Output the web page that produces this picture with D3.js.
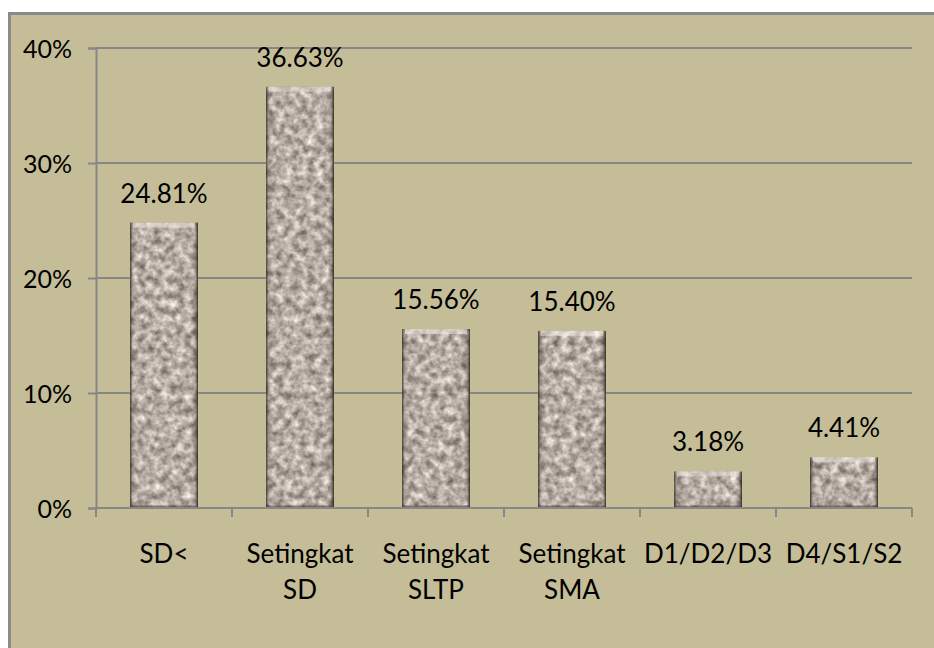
<!DOCTYPE html>
<html>
<head>
<meta charset="utf-8">
<script src="https://cdn.jsdelivr.net/npm/d3@7"></script>
<style>
  html, body { margin: 0; padding: 0; background: #ffffff; }
  svg { display: block; }
  text { font-family: Lato, "Open Sans", sans-serif; fill: #000; }
</style>
</head>
<body>
<svg id="chart" width="934" height="648"></svg>
<script>
const categories = [["SD<"], ["Setingkat", "SD"], ["Setingkat", "SLTP"], ["Setingkat", "SMA"], ["D1/D2/D3"], ["D4/S1/S2"]];
const values = [24.81, 36.63, 15.56, 15.40, 3.18, 4.41];
const valueLabels = ["24.81%", "36.63%", "15.56%", "15.40%", "3.18%", "4.41%"];
const yTicks = [0, 10, 20, 30, 40];
const yTickLabels = ["0%", "10%", "20%", "30%", "40%"];

const svg = d3.select("#chart");
const margin = { left: 96, right: 912, top: 48, bottom: 508 };

// defs: granite texture + bevel gradients
const defs = svg.append("defs");
const f = defs.append("filter").attr("id", "granite")
  .attr("x", 0).attr("y", 0).attr("width", 1).attr("height", 1)
  .attr("color-interpolation-filters", "sRGB");
f.append("feTurbulence").attr("type", "fractalNoise").attr("baseFrequency", 0.13)
  .attr("numOctaves", 3).attr("seed", 7).attr("result", "noise");
f.append("feColorMatrix").attr("in", "noise").attr("type", "matrix")
  .attr("values", "0.75 0 0 0 0.34  0.75 0 0 0 0.30  0.75 0 0 0 0.27  0 0 0 0 1")
  .attr("result", "col");
f.append("feGaussianBlur").attr("in", "col").attr("stdDeviation", 0.6).attr("result", "bl");
f.append("feComposite").attr("in", "bl").attr("in2", "SourceGraphic").attr("operator", "in");

const gh = defs.append("linearGradient").attr("id", "bevelH").attr("x1", 0).attr("x2", 1).attr("y1", 0).attr("y2", 0);
gh.append("stop").attr("offset", "0%").attr("stop-color", "#2a211c").attr("stop-opacity", 0.8);
gh.append("stop").attr("offset", "4%").attr("stop-color", "#2a211c").attr("stop-opacity", 0.15);
gh.append("stop").attr("offset", "9%").attr("stop-color", "#2a211c").attr("stop-opacity", 0);
gh.append("stop").attr("offset", "91%").attr("stop-color", "#2a211c").attr("stop-opacity", 0);
gh.append("stop").attr("offset", "96%").attr("stop-color", "#2a211c").attr("stop-opacity", 0.2);
gh.append("stop").attr("offset", "100%").attr("stop-color", "#2a211c").attr("stop-opacity", 0.9);

// background panel
svg.append("rect").attr("x", 9.5).attr("y", 13.5).attr("width", 940).attr("height", 650)
  .attr("fill", "#c4bd97").attr("stroke", "#8a8a8a").attr("stroke-width", 3);

const x = d3.scaleBand().domain(d3.range(categories.length))
  .range([margin.left, margin.right]).paddingInner(0.5).paddingOuter(0.25);
const xb = d3.scaleBand().domain(d3.range(categories.length)).range([margin.left, margin.right]);
const y = d3.scaleLinear().domain([0, 40]).range([margin.bottom, margin.top]);

// gridlines
svg.append("g").selectAll("line").data(yTicks.filter(d => d > 0)).join("line")
  .attr("x1", margin.left).attr("x2", margin.right)
  .attr("y1", d => y(d)).attr("y2", d => y(d))
  .attr("stroke", "#878787").attr("stroke-width", 2);

// y axis
const yAxis = svg.append("g").attr("transform", `translate(${margin.left},0)`)
  .call(d3.axisLeft(y).tickValues(yTicks).tickFormat((d, i) => yTickLabels[i]).tickSize(8).tickPadding(16));
yAxis.select(".domain").attr("stroke", "#878787").attr("stroke-width", 2);
yAxis.selectAll(".tick line").attr("stroke", "#878787").attr("stroke-width", 2);
yAxis.selectAll(".tick text").attr("font-size", 25).attr("font-family", "Lato, sans-serif")
  .attr("fill", "#000").attr("dy", "0.36em");

// bars
const bars = svg.append("g");
bars.selectAll("rect.bar").data(values).join("rect").attr("class", "bar")
  .attr("x", (d, i) => x(i)).attr("width", x.bandwidth())
  .attr("y", d => y(d)).attr("height", d => y(0) - y(d))
  .attr("fill", "#b2a79f").attr("filter", "url(#granite)");
bars.selectAll("rect.bev").data(values).join("rect").attr("class", "bev")
  .attr("x", (d, i) => x(i)).attr("width", x.bandwidth())
  .attr("y", d => y(d)).attr("height", d => y(0) - y(d))
  .attr("fill", "url(#bevelH)");
bars.selectAll("rect.top").data(values).join("rect").attr("class", "top")
  .attr("x", (d, i) => x(i) + 3).attr("width", x.bandwidth() - 6)
  .attr("y", d => y(d)).attr("height", 5)
  .attr("fill", "#f2ece6").attr("opacity", 0.5);
bars.selectAll("line.bot").data(values).join("line").attr("class", "bot")
  .attr("x1", (d, i) => x(i)).attr("x2", (d, i) => x(i) + x.bandwidth())
  .attr("y1", y(0) - 1.5).attr("y2", y(0) - 1.5)
  .attr("stroke", "#3a302a").attr("stroke-width", 2).attr("opacity", 0.5);

// x axis
const xAxis = svg.append("g").attr("transform", `translate(0,${margin.bottom})`);
xAxis.append("line").attr("x1", margin.left).attr("x2", margin.right)
  .attr("stroke", "#878787").attr("stroke-width", 2);
xAxis.selectAll("line.tk").data(d3.range(categories.length + 1)).join("line").attr("class", "tk")
  .attr("x1", i => i < categories.length ? xb(i) : margin.right)
  .attr("x2", i => i < categories.length ? xb(i) : margin.right)
  .attr("y1", 0).attr("y2", 9).attr("stroke", "#878787").attr("stroke-width", 2);

// category labels
const cl = svg.append("g").selectAll("text").data(categories).join("text")
  .attr("text-anchor", "middle").attr("font-size", 26)
  .attr("x", (d, i) => x(i) + x.bandwidth() / 2).attr("y", 563);
cl.selectAll("tspan").data(d => d).join("tspan")
  .attr("x", function () { return d3.select(this.parentNode).attr("x"); })
  .attr("dy", (d, j) => j === 0 ? 0 : 36)
  .text(d => d);

// value labels
svg.append("g").selectAll("text").data(values).join("text")
  .attr("text-anchor", "middle").attr("font-size", 26)
  .attr("x", (d, i) => x(i) + x.bandwidth() / 2)
  .attr("y", d => y(d) - 20)
  .text((d, i) => valueLabels[i]);
</script>
</body>
</html>
